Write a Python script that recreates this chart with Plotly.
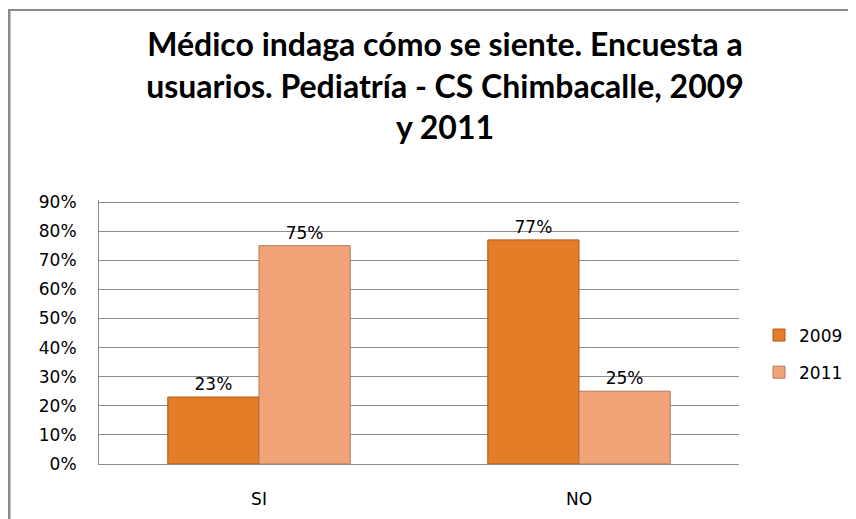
import plotly.graph_objects as go

categories = ["SI", "NO"]
series_names = ["2009", "2011"]
values_2009 = [0.23, 0.77]
values_2011 = [0.75, 0.25]
y_ticks = [0, 0.1, 0.2, 0.3, 0.4, 0.5, 0.6, 0.7, 0.8, 0.9]
title_lines = ["Médico indaga cómo se siente. Encuesta a",
               "usuarios. Pediatría - CS Chimbacalle, 2009",
               "y 2011"]

# page has an 8px body margin: figure pixel = page pixel - 8
OFF = 8
W, H = 856 - OFF, 519 - OFF
L = 99 - OFF
R = W - (739 - OFF)
T = 200 - OFF
B = H - (464 - OFF)

tick_font = dict(family="DejaVu Sans", size=17, color="#000000")

fig = go.Figure()
fig.add_trace(go.Bar(
    name=series_names[0], x=categories, y=values_2009,
    marker=dict(color="#E47D27", line=dict(color="#A9581C", width=1)),
    text=values_2009, texttemplate="%{y:.0%}", textposition="outside",
    textfont=tick_font, cliponaxis=False, legendgroup="a",
))
fig.add_trace(go.Bar(
    name=series_names[1], x=categories, y=values_2011,
    marker=dict(color="#F0A478", line=dict(color="#B5765A", width=1)),
    text=values_2011, texttemplate="%{y:.0%}", textposition="outside",
    textfont=tick_font, cliponaxis=False, legendgroup="b",
))

pw = W - L - R
ph = H - T - B
def px_x(p):
    return (p - OFF - L) / pw
def px_y(p):
    return (H - B - (p - OFF)) / ph

fig.update_layout(
    width=W, height=H,
    margin=dict(l=L, r=R, t=T, b=B, autoexpand=False),
    paper_bgcolor="white", plot_bgcolor="white",
    barmode="group", bargap=0.43, bargroupgap=0,
    title=dict(text="<br>".join("<b>" + s + "</b>" for s in title_lines),
               x=(445 - OFF) / W, xanchor="center", xref="container",
               y=1 - (50 - OFF + 6) / H, yanchor="middle",
               font=dict(family="Lato", size=32, color="#000000")),
    showlegend=True,
    legend=dict(x=px_x(759), y=px_y(354), xanchor="left", yanchor="middle",
                font=tick_font, traceorder="grouped", tracegroupgap=12,
                bgcolor="rgba(0,0,0,0)"),
    font=tick_font,
    shapes=[
        dict(type="line", xref="paper", yref="paper",
             x0=px_x(9), x1=px_x(9), y0=px_y(10), y1=px_y(530),
             line=dict(color="#8A8A8A", width=3)),
        dict(type="line", xref="paper", yref="paper",
             x0=px_x(8), x1=px_x(870), y0=px_y(10), y1=px_y(10),
             line=dict(color="#8A8A8A", width=2)),
    ],
)
fig.update_yaxes(
    range=[0, 0.907], tickvals=y_ticks, tickformat=".0%",
    showgrid=True, gridcolor="#8C8C8C", gridwidth=1,
    showline=True, linecolor="#8C8C8C", linewidth=1,
    zeroline=False, ticks="", tickfont=tick_font, ticklabelstandoff=18,
)
fig.update_xaxes(
    showgrid=False, showline=True, linecolor="#8C8C8C", linewidth=1,
    ticks="", tickfont=tick_font, ticklabelstandoff=20,
)

fig.write_html("out.html")
